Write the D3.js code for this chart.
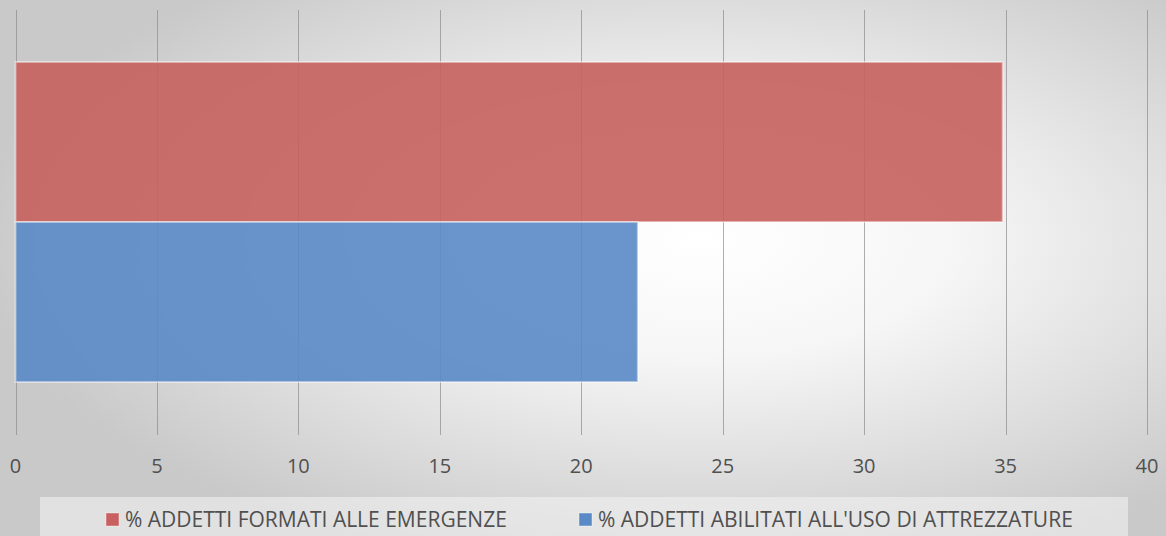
<!DOCTYPE html>
<meta charset="utf-8">
<style>
body { margin: 0; }
text { font-family: "Open Sans", sans-serif; fill: #505050; }
.grid line { stroke: #8c8c8c; stroke-opacity: 0.7; }
.tick-label { font-size: 20px; }
.legend text { font-size: 21px; }
</style>
<svg width="1166" height="536"></svg>
<script src="https://cdn.jsdelivr.net/npm/d3@7/dist/d3.min.js"></script>
<script>

// Data
var seriesNames = ["% ADDETTI FORMATI ALLE EMERGENZE", "% ADDETTI ABILITATI ALL'USO DI ATTREZZATURE"];
var seriesValues = [34.9, 22];
var seriesColors = ["#c7605e", "#5a8ac6"];
var xTicks = [0, 5, 10, 15, 20, 25, 30, 35, 40];

var svg = d3.select("svg"),
    width = +svg.attr("width"),
    height = +svg.attr("height");

// background gradient
var defs = svg.append("defs");
var grad = defs.append("radialGradient")
    .attr("id", "bg")
    .attr("cx", "60%").attr("cy", "45%")
    .attr("r", "62%");
grad.append("stop").attr("offset", "0%").attr("stop-color", "#ffffff");
grad.append("stop").attr("offset", "35%").attr("stop-color", "#f6f6f6");
grad.append("stop").attr("offset", "100%").attr("stop-color", "#c9c9c9");

svg.append("rect")
    .attr("width", width)
    .attr("height", height)
    .attr("fill", "url(#bg)");

var x = d3.scaleLinear()
    .domain([0, 40])
    .range([15.5, 1147]);

var y = d3.scaleBand()
    .domain(seriesNames)
    .range([62, 382])
    .padding(0);

// gridlines
svg.append("g")
    .attr("class", "grid")
  .selectAll("line")
  .data(xTicks)
  .enter().append("line")
    .attr("x1", function(d) { return Math.round(x(d)) + 0.5; })
    .attr("x2", function(d) { return Math.round(x(d)) + 0.5; })
    .attr("y1", 10)
    .attr("y2", 435);

// bars
svg.append("g")
  .selectAll("rect")
  .data(seriesValues)
  .enter().append("rect")
    .attr("x", x(0))
    .attr("y", function(d, i) { return y(seriesNames[i]); })
    .attr("width", function(d) { return x(d) - x(0); })
    .attr("height", y.bandwidth())
    .attr("fill", function(d, i) { return seriesColors[i]; })
    .attr("fill-opacity", 0.9)
    .attr("stroke", "#ffffff")
    .attr("stroke-opacity", 0.45)
    .attr("stroke-width", 2);

// tick labels
svg.append("g")
  .selectAll("text")
  .data(xTicks)
  .enter().append("text")
    .attr("class", "tick-label")
    .attr("x", function(d) { return x(d); })
    .attr("y", 473)
    .attr("text-anchor", "middle")
    .text(function(d) { return d; });

// legend
var legend = svg.append("g").attr("class", "legend");

legend.append("rect")
    .attr("x", 40)
    .attr("y", 497)
    .attr("width", 1088)
    .attr("height", 39)
    .attr("fill", "#f2f2f2")
    .attr("fill-opacity", 0.6);

var legendX = [106, 579];

var item = legend.selectAll("g.item")
  .data(seriesNames)
  .enter().append("g")
    .attr("class", "item")
    .attr("transform", function(d, i) { return "translate(" + legendX[i] + ",0)"; });

item.append("rect")
    .attr("y", 513)
    .attr("width", 13)
    .attr("height", 13)
    .attr("fill", function(d, i) { return seriesColors[i]; })
    .attr("stroke", "#ffffff")
    .attr("stroke-opacity", 0.4);

item.append("text")
    .attr("x", 19)
    .attr("y", 527)
    .text(function(d) { return d; });

</script>
